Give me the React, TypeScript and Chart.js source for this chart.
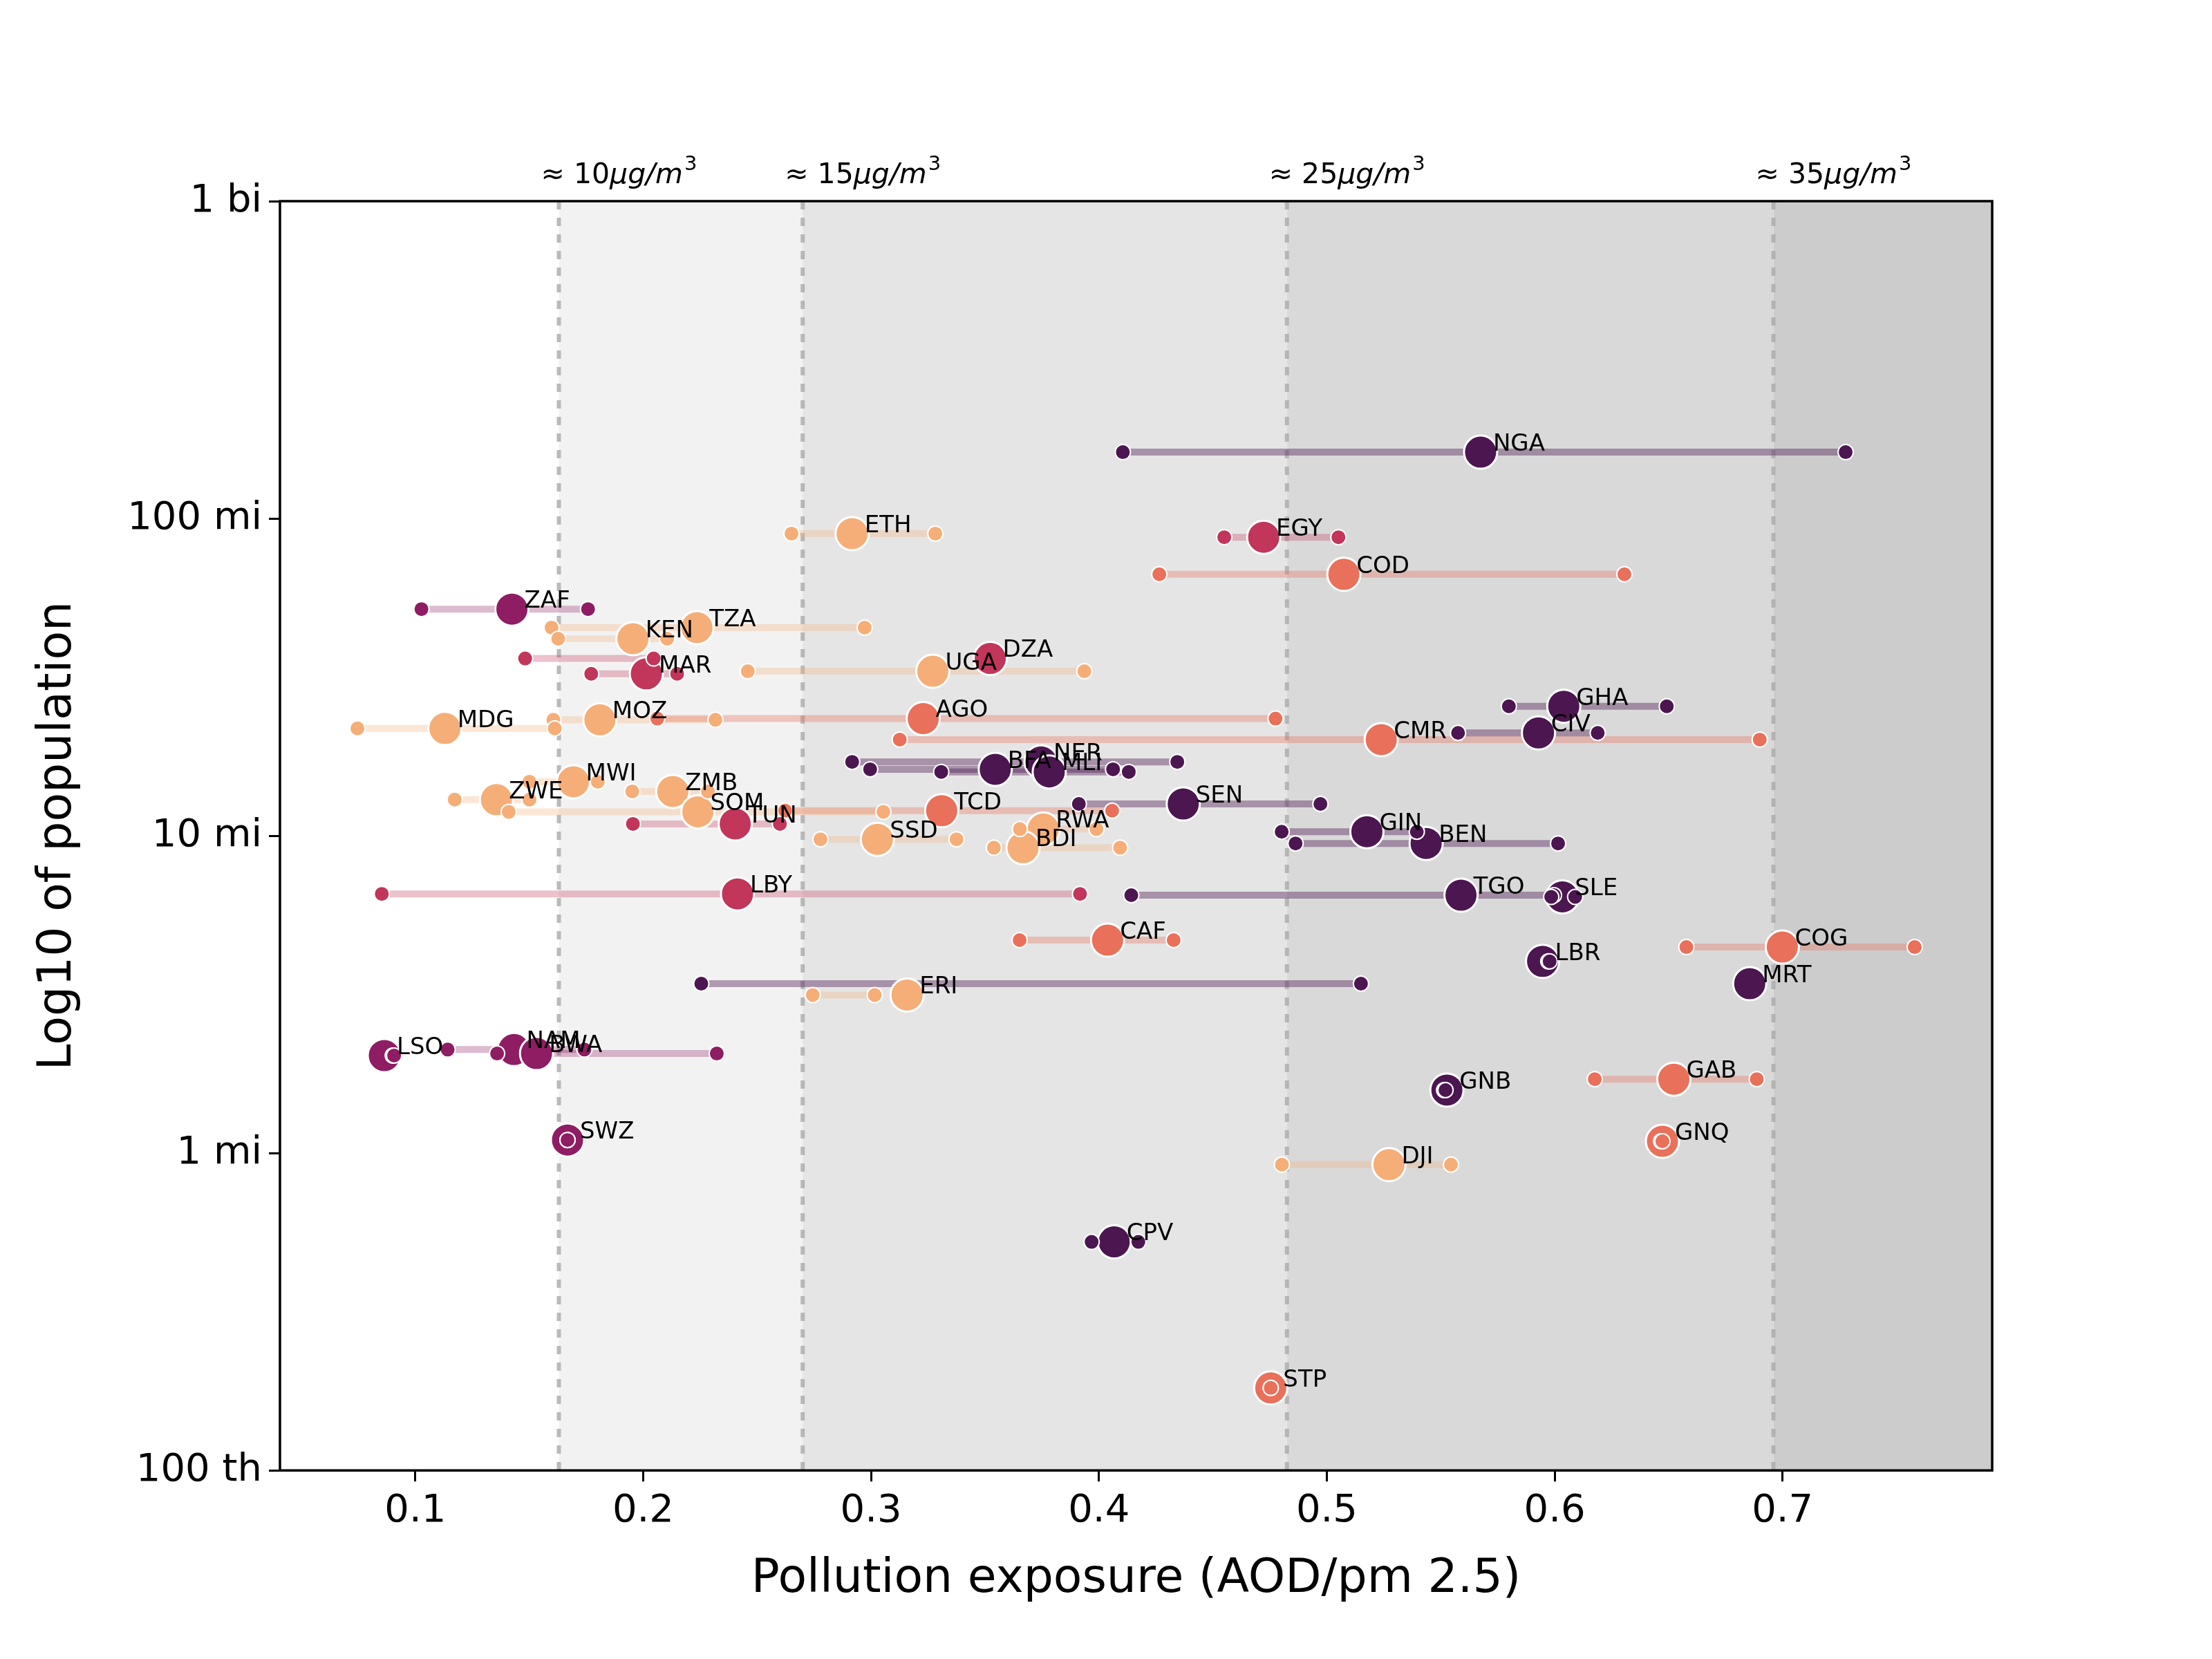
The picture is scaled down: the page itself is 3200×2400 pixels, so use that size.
import React, { useEffect, useRef } from "react";
import { Chart, registerables } from "chart.js";
Chart.register(...registerables);

const codes = ["NGA","ETH","EGY","COD","ZAF","TZA","KEN","DZA","MAR","UGA","GHA","AGO","MOZ","MDG","CIV","CMR","NER","BFA","MLI","MWI","ZMB","ZWE","SEN","SOM","TCD","TUN","RWA","GIN","SSD","BEN","BDI","LBY","TGO","SLE","CAF","COG","LBR","MRT","ERI","NAM","BWA","LSO","GAB","GNB","GNQ","SWZ","DJI","CPV","STP"];
const regions = ["W","E","N","C","S","E","E","N","N","E","W","C","E","E","W","C","W","W","W","E","E","E","W","E","C","N","E","W","E","W","E","N","W","W","C","C","W","W","E","S","S","S","C","W","C","S","E","W","C"];
const centerX = [0.5675,0.2917,0.4723,0.5075,0.1424,0.2236,0.1955,0.3523,0.2014,0.3271,0.6040,0.3229,0.1810,0.1130,0.5929,0.5239,0.3746,0.3545,0.3782,0.1694,0.2130,0.1356,0.4370,0.2240,0.3310,0.2404,0.3756,0.5176,0.3028,0.5436,0.3667,0.2414,0.5589,0.6034,0.4038,0.6999,0.5947,0.6856,0.3158,0.1433,0.1532,0.0864,0.6523,0.5527,0.6473,0.1668,0.5273,0.4067,0.4754];
const minX = [0.4105,0.2651,0.4550,0.4265,0.1027,0.1598,0.1627,0.1482,0.1772,0.2459,0.5799,0.2062,0.1606,0.0746,0.5576,0.3126,0.2917,0.2996,0.3308,0.1501,0.1952,0.1173,0.3912,0.1410,0.2623,0.1955,0.3653,0.4802,0.2778,0.4863,0.3539,0.0853,0.4142,0.5985,0.3652,0.6578,0.5972,0.2255,0.2744,0.1142,0.1359,0.0901,0.6176,0.5515,0.6467,0.1668,0.4803,0.3968,0.4754];
const maxX = [0.7277,0.3282,0.5051,0.6306,0.1758,0.2972,0.2105,0.2046,0.2149,0.3936,0.6492,0.4775,0.2317,0.1612,0.6189,0.6900,0.4344,0.4062,0.4131,0.1801,0.2284,0.1501,0.4972,0.3054,0.4058,0.2600,0.3989,0.5395,0.3375,0.6015,0.4093,0.3917,0.5997,0.6090,0.4328,0.7580,0.5978,0.5150,0.3016,0.1742,0.2323,0.0907,0.6887,0.5521,0.6473,0.1668,0.5545,0.4173,0.4754];
const popMillions = [161.8,89.6,87.3,66.7,51.8,45.3,41.8,36.2,32.4,33.0,25.6,23.4,23.2,21.8,21.1,20.1,17.1,16.2,15.9,14.8,13.8,13.0,12.6,11.9,12.0,10.9,10.5,10.3,9.75,9.46,9.17,6.56,6.5,6.42,4.69,4.46,4.02,3.42,3.15,2.12,2.06,2.03,1.71,1.58,1.09,1.1,0.92,0.525,0.182];

const regionColor: Record<string, string> = { W: "#4c1650", S: "#8e1d63", N: "#c1365a", C: "#e9705a", E: "#f5ae78" };
const regionLine: Record<string, string> = { W: "rgba(76,22,80,0.4)", S: "rgba(142,29,99,0.3)", N: "rgba(193,54,90,0.3)", C: "rgba(233,112,90,0.35)", E: "rgba(245,174,120,0.3)" };

const thresholds = [0.163, 0.270, 0.4825, 0.696];
const thresholdLabels = ["10", "15", "25", "35"];
const bandColors = ["#ffffff", "#f2f2f2", "#e5e5e5", "#d9d9d9", "#cccccc"];
const xTicks = [0.1, 0.2, 0.3, 0.4, 0.5, 0.6, 0.7];
const yTicks = [1e5, 1e6, 1e7, 1e8, 1e9];
const yTickLabels = ["100 th", "1 mi", "10 mi", "100 mi", "1 bi"];

const FONT = "'DejaVu Sans'";

export default function App() {
  const ref = useRef<HTMLCanvasElement>(null);
  useEffect(() => {
    document.body.style.margin = "0";
    const pts = codes.map((c, i) => ({ code: c, r: regions[i], cx: centerX[i], lo: minX[i], hi: maxX[i], y: popMillions[i] * 1e6 }));
    const lineSets = pts.map((p) => ({
      type: "line" as const,
      data: [{ x: p.lo, y: p.y }, { x: p.hi, y: p.y }],
      borderColor: regionLine[p.r],
      borderWidth: 10,
      pointRadius: 0,
      order: 3,
    }));
    const centers = {
      type: "scatter" as const,
      data: pts.map((p) => ({ x: p.cx, y: p.y })),
      backgroundColor: pts.map((p) => regionColor[p.r]),
      borderColor: "#ffffff",
      borderWidth: 3,
      pointRadius: 24,
      order: 2,
    };
    const ends = {
      type: "scatter" as const,
      data: pts.flatMap((p) => [{ x: p.lo, y: p.y }, { x: p.hi, y: p.y }]),
      backgroundColor: pts.flatMap((p) => [regionColor[p.r], regionColor[p.r]]),
      borderColor: "#ffffff",
      borderWidth: 2,
      pointRadius: 11,
      order: 1,
    };
    const bg = {
      id: "bg",
      beforeDatasetsDraw(chart: any) {
        const { ctx, chartArea: a, scales } = chart;
        const xs = scales.x;
        const edges = [a.left, ...thresholds.map((t) => xs.getPixelForValue(t)), a.right];
        ctx.save();
        for (let i = 0; i < bandColors.length; i++) {
          ctx.fillStyle = bandColors[i];
          ctx.fillRect(edges[i], a.top, edges[i + 1] - edges[i], a.bottom - a.top);
        }
        ctx.strokeStyle = "rgba(170,170,170,0.8)";
        ctx.lineWidth = 6;
        ctx.setLineDash([12, 12]);
        thresholds.forEach((t) => {
          const px = xs.getPixelForValue(t);
          ctx.beginPath(); ctx.moveTo(px, a.top); ctx.lineTo(px, a.bottom); ctx.stroke();
        });
        ctx.setLineDash([]);
        ctx.fillStyle = "#000";
        ctx.textBaseline = "alphabetic";
        thresholds.forEach((t, i) => {
          let px = xs.getPixelForValue(t) - 26;
          const by = a.top - 26;
          ctx.font = `41px ${FONT}`;
          ctx.fillText("≈ " + thresholdLabels[i], px, by);
          px += ctx.measureText("≈ " + thresholdLabels[i]).width;
          ctx.font = `italic 41px ${FONT}`;
          ctx.fillText("μg/m", px, by);
          px += ctx.measureText("μg/m").width;
          ctx.font = `29px ${FONT}`;
          ctx.fillText("3", px + 2, by - 19);
        });
        ctx.restore();
      },
      afterDatasetsDraw(chart: any) {
        const { ctx, chartArea: a, scales } = chart;
        ctx.save();
        ctx.fillStyle = "#000";
        ctx.font = `34px ${FONT}`;
        ctx.textBaseline = "middle";
        pts.forEach((p) => {
          ctx.fillText(p.code, scales.x.getPixelForValue(p.cx) + 18, scales.y.getPixelForValue(p.y) - 11);
        });
        ctx.strokeStyle = "#000";
        ctx.lineWidth = 3.5;
        ctx.strokeRect(a.left, a.top, a.right - a.left, a.bottom - a.top);
        ctx.restore();
      },
    };
    const chart = new Chart(ref.current!, {
      type: "scatter",
      data: { datasets: [...lineSets, centers, ends] as any },
      options: {
        animation: false,
        responsive: false,
        devicePixelRatio: 1,
        events: [],
        layout: { padding: { top: 291, right: 318, bottom: 70, left: 40 } },
        plugins: { legend: { display: false }, tooltip: { enabled: false } },
        scales: {
          x: {
            type: "linear", min: 0.0406, max: 0.792,
            afterBuildTicks: (s: any) => { s.ticks = xTicks.map((v) => ({ value: v })); },
            ticks: { font: { family: FONT, size: 56 }, color: "#000", padding: 10, callback: (v: any) => String(Math.round(v * 10) / 10) },
            grid: { drawOnChartArea: false, tickLength: 16, tickWidth: 3, color: "#000" },
            border: { display: false },
            title: { display: true, text: "Pollution exposure (AOD/pm 2.5)", font: { family: FONT, size: 68 }, color: "#000", padding: { top: 14 } },
          },
          y: {
            type: "logarithmic", min: 1e5, max: 1e9,
            afterBuildTicks: (s: any) => { s.ticks = yTicks.map((v) => ({ value: v })); },
            ticks: { font: { family: FONT, size: 56 }, color: "#000", padding: 10, callback: (v: any) => yTickLabels[yTicks.indexOf(v)] ?? "" },
            grid: { drawOnChartArea: false, tickLength: 16, tickWidth: 3, color: "#000" },
            border: { display: false },
            title: { display: true, text: "Log10 of population", font: { family: FONT, size: 68 }, color: "#000", padding: { bottom: 20 } },
            afterFit: (s: any) => { s.width = 365; },
          },
        },
      },
      plugins: [bg],
    } as any);
    return () => chart.destroy();
  }, []);
  return <canvas ref={ref} width={3200} height={2400} style={{ width: 3200, height: 2400, display: "block" }} />;
}
